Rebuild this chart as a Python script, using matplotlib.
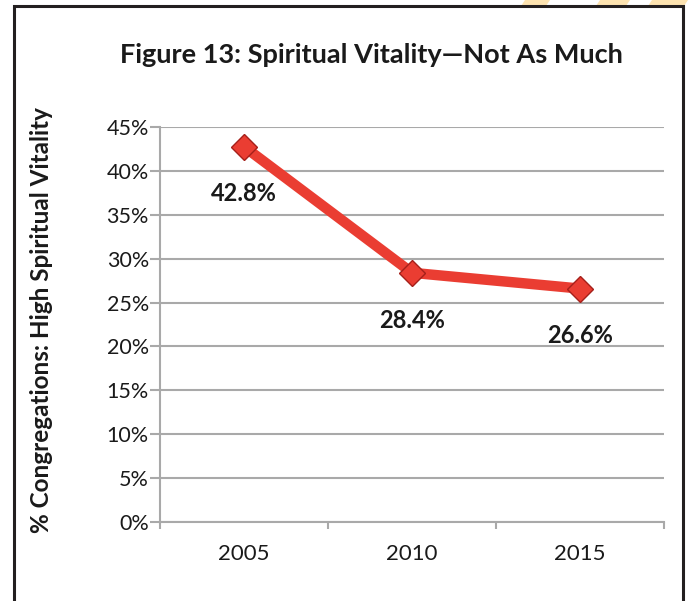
import matplotlib
matplotlib.use("Agg")
import matplotlib.pyplot as plt
from matplotlib.patches import Polygon, Rectangle
from matplotlib.ticker import FixedLocator

# ── data ──────────────────────────────────────────────────────────────────────
years = ["2005", "2010", "2015"]
vitality = [42.8, 28.4, 26.6]
y_ticks = [0, 5, 10, 15, 20, 25, 30, 35, 40, 45]

FONT = "Lato"
GRID = "#a9a9a9"
RED = "#ea3d32"
INK = "#1a1a1a"

fig = plt.figure(figsize=(6.88, 6.01), dpi=100)
ax = fig.add_axes([160 / 688, 79.3 / 601, 504 / 688, 394.4 / 601])

x = list(range(len(years)))
ax.plot(x, vitality, color=RED, lw=7.5, solid_capstyle="round", zorder=3)
ax.plot(x, vitality, ls="none", marker="D", ms=13, mfc=RED,
        mec="#a5201a", mew=1.0, zorder=4)

for xi, v in zip(x, vitality):
    ax.annotate(f"{v:.1f}%", (xi, v), xytext=(0, -34), textcoords="offset points",
                ha="center", va="center", fontsize=17, fontweight="bold",
                family=FONT, color=INK)

ax.set_xlim(-0.5, len(years) - 0.5)
ax.set_ylim(0, 45)
ax.set_yticks(y_ticks)
ax.set_yticklabels([f"{t}%" for t in y_ticks], family=FONT, fontsize=15.5, color=INK)
ax.set_xticks(x)
ax.set_xticklabels(years, family=FONT, fontsize=16, color=INK)
ax.xaxis.set_minor_locator(FixedLocator([i - 0.5 for i in range(len(years) + 1)]))
ax.tick_params(axis="x", which="major", length=0, pad=16)
ax.tick_params(axis="x", which="minor", length=5, width=1.5, color=GRID, direction="out")
ax.tick_params(axis="y", length=7, width=1.5, color=GRID, pad=1)

ax.grid(axis="y", color=GRID, lw=1.5)
ax.set_axisbelow(True)
for side in ["top", "right"]:
    ax.spines[side].set_visible(False)
for side in ["left", "bottom"]:
    ax.spines[side].set_color(GRID)
    ax.spines[side].set_linewidth(1.5)

fig.text(371 / 688, 1 - 55 / 601, "Figure 13: Spiritual Vitality\u2014Not As Much",
         ha="center", va="center", fontsize=19.5, fontweight="bold", family=FONT,
         color=INK)
fig.text(42 / 688, 1 - 320 / 601, "% Congregations: High Spiritual Vitality",
         ha="center", va="center", rotation=90, fontsize=17.5, fontweight="bold",
         family=FONT, color=INK)

# page background peeking in above the frame, then the black frame itself
W, H = 688, 601
for x0, x1 in [(525, 550), (600, 630), (652, 688)]:
    pts = [(x0 / W, 1), (x1 / W, 1), ((x1 - 4) / W, 1 - 6 / H), ((x0 - 4) / W, 1 - 6 / H)]
    fig.patches.append(Polygon(pts, closed=True, transform=fig.transFigure,
                               facecolor="#fde3b0", edgecolor="none"))
fig.patches.append(Rectangle((14 / W, -0.05), (683 - 14) / W, 1.05 - 6 / H,
                             transform=fig.transFigure, fill=False,
                             edgecolor="#231f20", lw=2.2))

fig.savefig("out.png", dpi=100)
